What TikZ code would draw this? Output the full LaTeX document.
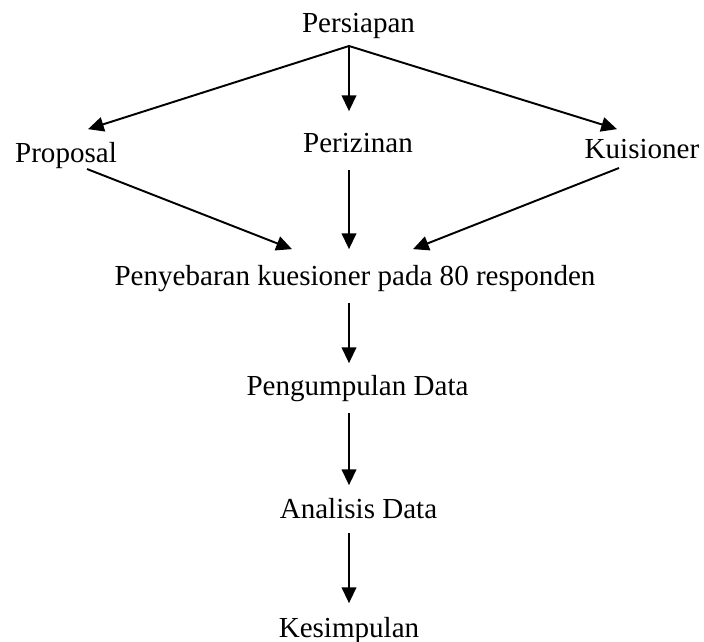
\documentclass[tikz,border=0pt]{standalone}
\usepackage{fontspec}
\setmainfont{Liberation Serif}
\usepackage{xcolor}
\usetikzlibrary{arrows.meta, positioning}

\begin{document}
\begin{tikzpicture}[
x=0.413pt, y=-0.413pt,
lbl/.style = {inner sep=0pt, outer sep=0pt, anchor=base,
              text height=8.2pt, text depth=2.6pt,
              font=\fontsize{12pt}{14pt}\selectfont},
arr/.style = {draw, line width=0.8pt, -{Triangle[length=6.5pt, width=6pt]}},
                        ]
\useasboundingbox (0,0) rectangle (704,641);
\node (pers)   [lbl] at (358.5,32)  {Persiapan};
\node (prop)   [lbl] at (66,162)    {Proposal};
\node (peri)   [lbl] at (358,152)   {Perizinan};
\node (kuis)   [lbl] at (642,158)   {Kuisioner};
\node (peny)   [lbl] at (355,285)   {Penyebaran kuesioner pada 80 responden};
\node (pengum) [lbl] at (357.5,395) {Pengumpulan Data};
\node (anal)   [lbl] at (358.5,518) {Analisis Data};
\node (kesim)  [lbl] at (349,637)   {Kesimpulan};
% persiapan ke tiga cabang
\draw[arr] ([shift={(-9.5,7.7)}]pers.south) -- ([shift={(22,-13)}]prop.north);
\draw[arr] ([shift={(-9.5,7.7)}]pers.south) -- ([shift={(-9,-21)}]peri.north);
\draw[arr] ([shift={(-9.5,7.7)}]pers.south) -- ([shift={(-25,-9)}]kuis.north);
% cabang ke penyebaran
\draw[arr] ([shift={(21,0.7)}]prop.south) -- ([shift={(-63,-16)}]peny.north);
\draw[arr] ([shift={(-9,11.7)}]peri.south) -- ([shift={(-6,-16)}]peny.north);
\draw[arr] ([shift={(-23,3.7)}]kuis.south) -- ([shift={(58,-16)}]peny.north);
% alur ke bawah
\draw[arr] ([shift={(-6,11.7)}]peny.south)     -- ([shift={(-8.5,-12)}]pengum.north);
\draw[arr] ([shift={(-8.5,11.7)}]pengum.south) -- ([shift={(-9.5,-13)}]anal.north);
\draw[arr] ([shift={(-9.5,8.7)}]anal.south)    -- ([shift={(0,-14)}]kesim.north);
\end{tikzpicture}
\end{document}
